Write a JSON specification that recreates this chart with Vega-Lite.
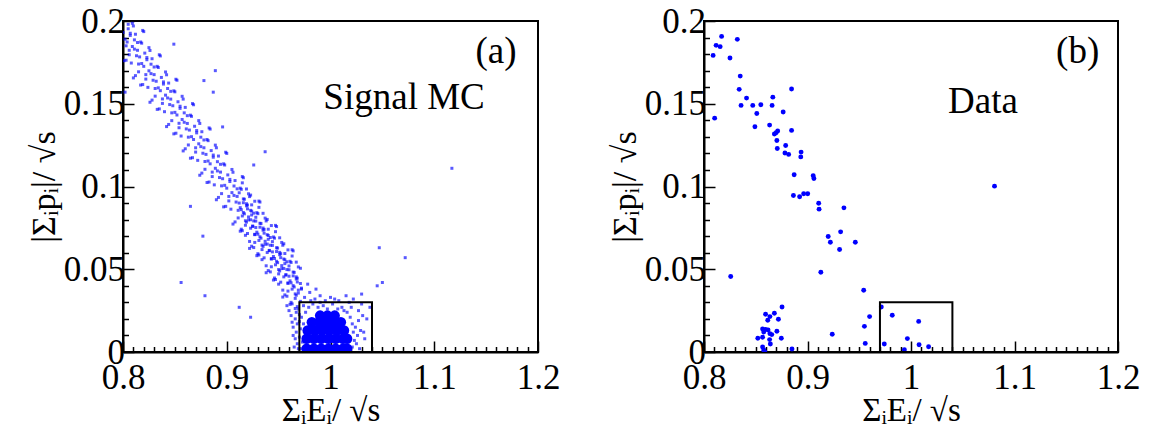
{
  "$schema": "https://vega.github.io/schema/vega-lite/v6.json",
  "background": "white",
  "padding": {"left": 26, "top": 3, "right": 5, "bottom": 0},
  "spacing": 166,
  "bounds": "flush",
  "config": {"view": {"stroke": "black", "strokeWidth": 2}},
  "datasets": {
    "mc": [
      {"x":0.801,"y":0.176},{"x":0.802,"y":0.189},{"x":0.800,"y":0.193},{"x":0.805,"y":0.198},{"x":0.803,"y":0.185},
      {"x":0.803,"y":0.1763},{"x":0.806,"y":0.1823},{"x":0.804,"y":0.1873},{"x":0.807,"y":0.1913},{"x":0.805,"y":0.1953},
      {"x":0.810,"y":0.1656},{"x":0.808,"y":0.1746},{"x":0.806,"y":0.1796},{"x":0.809,"y":0.1846},{"x":0.811,"y":0.1886},{"x":0.807,"y":0.1926},{"x":0.809,"y":0.1986},
      {"x":0.812,"y":0.1670},{"x":0.815,"y":0.1740},{"x":0.813,"y":0.1790},{"x":0.811,"y":0.1830},{"x":0.814,"y":0.1870},{"x":0.812,"y":0.1920},{"x":0.810,"y":0.1970},
      {"x":0.817,"y":0.1613},{"x":0.815,"y":0.1693},{"x":0.818,"y":0.1743},{"x":0.816,"y":0.1783},{"x":0.814,"y":0.1823},{"x":0.817,"y":0.1873},{"x":0.819,"y":0.1943},
      {"x":0.819,"y":0.1616},{"x":0.822,"y":0.1676},{"x":0.820,"y":0.1726},{"x":0.823,"y":0.1766},{"x":0.821,"y":0.1806},{"x":0.818,"y":0.1866},{"x":0.820,"y":0.1936},
      {"x":0.826,"y":0.1509},{"x":0.824,"y":0.1599},{"x":0.822,"y":0.1649},{"x":0.825,"y":0.1699},{"x":0.827,"y":0.1739},{"x":0.823,"y":0.1779},{"x":0.825,"y":0.1839},
      {"x":0.828,"y":0.1522},{"x":0.831,"y":0.1592},{"x":0.829,"y":0.1642},{"x":0.827,"y":0.1682},{"x":0.830,"y":0.1722},{"x":0.828,"y":0.1772},{"x":0.826,"y":0.1822},
      {"x":0.833,"y":0.1466},{"x":0.831,"y":0.1546},{"x":0.834,"y":0.1596},{"x":0.832,"y":0.1636},{"x":0.830,"y":0.1676},{"x":0.833,"y":0.1726},{"x":0.835,"y":0.1796},
      {"x":0.835,"y":0.1469},{"x":0.838,"y":0.1529},{"x":0.836,"y":0.1579},{"x":0.839,"y":0.1619},{"x":0.837,"y":0.1659},{"x":0.834,"y":0.1719},{"x":0.836,"y":0.1789},
      {"x":0.842,"y":0.1362},{"x":0.840,"y":0.1452},{"x":0.838,"y":0.1502},{"x":0.841,"y":0.1552},{"x":0.843,"y":0.1592},{"x":0.839,"y":0.1632},{"x":0.841,"y":0.1692},
      {"x":0.844,"y":0.1375},{"x":0.847,"y":0.1445},{"x":0.845,"y":0.1495},{"x":0.843,"y":0.1535},{"x":0.846,"y":0.1575},{"x":0.844,"y":0.1625},{"x":0.842,"y":0.1675},
      {"x":0.849,"y":0.1318},{"x":0.847,"y":0.1398},{"x":0.850,"y":0.1448},{"x":0.848,"y":0.1488},{"x":0.846,"y":0.1528},{"x":0.849,"y":0.1578},{"x":0.851,"y":0.1648},
      {"x":0.851,"y":0.1322},{"x":0.854,"y":0.1382},{"x":0.852,"y":0.1432},{"x":0.855,"y":0.1472},{"x":0.853,"y":0.1512},{"x":0.850,"y":0.1572},{"x":0.852,"y":0.1642},
      {"x":0.858,"y":0.1215},{"x":0.856,"y":0.1305},{"x":0.854,"y":0.1355},{"x":0.857,"y":0.1405},{"x":0.859,"y":0.1445},{"x":0.855,"y":0.1485},{"x":0.857,"y":0.1545},
      {"x":0.860,"y":0.1228},{"x":0.863,"y":0.1298},{"x":0.861,"y":0.1348},{"x":0.859,"y":0.1388},{"x":0.862,"y":0.1428},{"x":0.860,"y":0.1478},{"x":0.858,"y":0.1528},
      {"x":0.865,"y":0.1171},{"x":0.863,"y":0.1251},{"x":0.866,"y":0.1301},{"x":0.864,"y":0.1341},{"x":0.862,"y":0.1381},{"x":0.865,"y":0.1431},{"x":0.867,"y":0.1501},
      {"x":0.867,"y":0.1174},{"x":0.870,"y":0.1234},{"x":0.868,"y":0.1284},{"x":0.871,"y":0.1324},{"x":0.869,"y":0.1364},{"x":0.866,"y":0.1424},{"x":0.868,"y":0.1494},
      {"x":0.874,"y":0.1068},{"x":0.872,"y":0.1158},{"x":0.870,"y":0.1208},{"x":0.873,"y":0.1258},{"x":0.875,"y":0.1298},{"x":0.871,"y":0.1338},{"x":0.873,"y":0.1398},
      {"x":0.876,"y":0.1081},{"x":0.879,"y":0.1151},{"x":0.877,"y":0.1201},{"x":0.875,"y":0.1241},{"x":0.878,"y":0.1281},{"x":0.876,"y":0.1331},{"x":0.874,"y":0.1381},
      {"x":0.881,"y":0.1024},{"x":0.879,"y":0.1104},{"x":0.882,"y":0.1154},{"x":0.880,"y":0.1194},{"x":0.878,"y":0.1234},{"x":0.881,"y":0.1284},{"x":0.883,"y":0.1354},
      {"x":0.883,"y":0.1027},{"x":0.886,"y":0.1087},{"x":0.884,"y":0.1137},{"x":0.887,"y":0.1177},{"x":0.885,"y":0.1217},{"x":0.882,"y":0.1277},{"x":0.884,"y":0.1347},
      {"x":0.890,"y":0.0920},{"x":0.888,"y":0.1010},{"x":0.886,"y":0.1060},{"x":0.889,"y":0.1110},{"x":0.891,"y":0.1150},{"x":0.887,"y":0.1190},{"x":0.889,"y":0.1250},
      {"x":0.892,"y":0.0934},{"x":0.895,"y":0.1004},{"x":0.893,"y":0.1054},{"x":0.891,"y":0.1094},{"x":0.894,"y":0.1134},{"x":0.892,"y":0.1184},{"x":0.890,"y":0.1234},
      {"x":0.897,"y":0.0877},{"x":0.895,"y":0.0957},{"x":0.898,"y":0.1007},{"x":0.896,"y":0.1047},{"x":0.894,"y":0.1087},{"x":0.897,"y":0.1137},{"x":0.899,"y":0.1207},
      {"x":0.899,"y":0.0880},{"x":0.902,"y":0.0940},{"x":0.900,"y":0.0990},{"x":0.903,"y":0.1030},{"x":0.901,"y":0.1070},{"x":0.898,"y":0.1130},{"x":0.900,"y":0.1200},
      {"x":0.906,"y":0.0773},{"x":0.904,"y":0.0863},{"x":0.902,"y":0.0913},{"x":0.905,"y":0.0963},{"x":0.907,"y":0.1003},{"x":0.903,"y":0.1043},{"x":0.905,"y":0.1103},
      {"x":0.908,"y":0.0786},{"x":0.911,"y":0.0856},{"x":0.909,"y":0.0906},{"x":0.907,"y":0.0946},{"x":0.910,"y":0.0986},{"x":0.908,"y":0.1036},{"x":0.906,"y":0.1086},
      {"x":0.913,"y":0.0730},{"x":0.911,"y":0.0810},{"x":0.914,"y":0.0860},{"x":0.912,"y":0.0900},{"x":0.910,"y":0.0940},{"x":0.913,"y":0.0990},{"x":0.915,"y":0.1060},
      {"x":0.915,"y":0.0733},{"x":0.918,"y":0.0793},{"x":0.916,"y":0.0843},{"x":0.919,"y":0.0883},{"x":0.917,"y":0.0923},{"x":0.914,"y":0.0983},{"x":0.916,"y":0.1053},
      {"x":0.922,"y":0.0626},{"x":0.920,"y":0.0716},{"x":0.918,"y":0.0766},{"x":0.921,"y":0.0816},{"x":0.923,"y":0.0856},{"x":0.919,"y":0.0896},{"x":0.921,"y":0.0956},
      {"x":0.924,"y":0.0639},{"x":0.927,"y":0.0709},{"x":0.925,"y":0.0759},{"x":0.923,"y":0.0799},{"x":0.926,"y":0.0839},{"x":0.924,"y":0.0889},{"x":0.922,"y":0.0939},
      {"x":0.929,"y":0.0582},{"x":0.927,"y":0.0662},{"x":0.930,"y":0.0712},{"x":0.928,"y":0.0752},{"x":0.926,"y":0.0792},{"x":0.929,"y":0.0842},{"x":0.931,"y":0.0912},
      {"x":0.931,"y":0.0586},{"x":0.934,"y":0.0646},{"x":0.932,"y":0.0696},{"x":0.935,"y":0.0736},{"x":0.933,"y":0.0776},{"x":0.930,"y":0.0836},{"x":0.932,"y":0.0906},
      {"x":0.938,"y":0.0479},{"x":0.936,"y":0.0569},{"x":0.934,"y":0.0619},{"x":0.937,"y":0.0669},{"x":0.939,"y":0.0709},{"x":0.935,"y":0.0749},{"x":0.937,"y":0.0809},
      {"x":0.940,"y":0.0492},{"x":0.943,"y":0.0562},{"x":0.941,"y":0.0612},{"x":0.939,"y":0.0652},{"x":0.942,"y":0.0692},{"x":0.940,"y":0.0742},{"x":0.938,"y":0.0792},
      {"x":0.945,"y":0.0435},{"x":0.943,"y":0.0515},{"x":0.946,"y":0.0565},{"x":0.944,"y":0.0605},{"x":0.942,"y":0.0645},{"x":0.945,"y":0.0695},{"x":0.947,"y":0.0765},
      {"x":0.947,"y":0.0438},{"x":0.950,"y":0.0498},{"x":0.948,"y":0.0548},{"x":0.951,"y":0.0588},{"x":0.949,"y":0.0628},{"x":0.946,"y":0.0688},{"x":0.948,"y":0.0758},
      {"x":0.954,"y":0.0332},{"x":0.952,"y":0.0422},{"x":0.950,"y":0.0472},{"x":0.953,"y":0.0522},{"x":0.955,"y":0.0562},{"x":0.951,"y":0.0602},{"x":0.953,"y":0.0662},
      {"x":0.956,"y":0.0345},{"x":0.959,"y":0.0415},{"x":0.957,"y":0.0465},{"x":0.955,"y":0.0505},{"x":0.958,"y":0.0545},{"x":0.956,"y":0.0595},{"x":0.954,"y":0.0645},
      {"x":0.961,"y":0.0288},{"x":0.959,"y":0.0368},{"x":0.962,"y":0.0418},{"x":0.960,"y":0.0458},{"x":0.958,"y":0.0498},{"x":0.961,"y":0.0548},{"x":0.963,"y":0.0618},
      {"x":0.963,"y":0.0291},{"x":0.966,"y":0.0351},{"x":0.964,"y":0.0401},{"x":0.967,"y":0.0441},{"x":0.965,"y":0.0481},{"x":0.962,"y":0.0541},{"x":0.964,"y":0.0611},
      {"x":0.970,"y":0.0184},{"x":0.968,"y":0.0274},{"x":0.966,"y":0.0324},{"x":0.969,"y":0.0374},{"x":0.971,"y":0.0414},{"x":0.967,"y":0.0454},{"x":0.969,"y":0.0514},
      {"x":0.914,"y":0.0742},{"x":0.915,"y":0.0822},{"x":0.913,"y":0.0872},{"x":0.916,"y":0.0902},{"x":0.912,"y":0.0962},{"x":0.915,"y":0.1022},
      {"x":0.918,"y":0.0705},{"x":0.919,"y":0.0785},{"x":0.917,"y":0.0835},{"x":0.920,"y":0.0865},{"x":0.916,"y":0.0925},{"x":0.919,"y":0.0985},
      {"x":0.922,"y":0.0668},{"x":0.923,"y":0.0748},{"x":0.921,"y":0.0798},{"x":0.924,"y":0.0828},{"x":0.920,"y":0.0888},{"x":0.923,"y":0.0948},
      {"x":0.926,"y":0.0631},{"x":0.927,"y":0.0711},{"x":0.925,"y":0.0761},{"x":0.928,"y":0.0791},{"x":0.924,"y":0.0851},{"x":0.927,"y":0.0911},
      {"x":0.930,"y":0.0594},{"x":0.931,"y":0.0674},{"x":0.929,"y":0.0724},{"x":0.932,"y":0.0754},{"x":0.928,"y":0.0814},{"x":0.931,"y":0.0874},
      {"x":0.934,"y":0.0558},{"x":0.935,"y":0.0638},{"x":0.933,"y":0.0688},{"x":0.936,"y":0.0718},{"x":0.932,"y":0.0778},{"x":0.935,"y":0.0838},
      {"x":0.938,"y":0.0521},{"x":0.939,"y":0.0601},{"x":0.937,"y":0.0651},{"x":0.940,"y":0.0681},{"x":0.936,"y":0.0741},{"x":0.939,"y":0.0801},
      {"x":0.942,"y":0.0484},{"x":0.943,"y":0.0564},{"x":0.941,"y":0.0614},{"x":0.944,"y":0.0644},{"x":0.940,"y":0.0704},{"x":0.943,"y":0.0764},
      {"x":0.946,"y":0.0447},{"x":0.947,"y":0.0527},{"x":0.945,"y":0.0577},{"x":0.948,"y":0.0607},{"x":0.944,"y":0.0667},{"x":0.947,"y":0.0727},
      {"x":0.950,"y":0.0410},{"x":0.951,"y":0.0490},{"x":0.949,"y":0.0540},{"x":0.952,"y":0.0570},{"x":0.948,"y":0.0630},{"x":0.951,"y":0.0690},
      {"x":0.954,"y":0.0374},{"x":0.955,"y":0.0454},{"x":0.953,"y":0.0504},{"x":0.956,"y":0.0534},{"x":0.952,"y":0.0594},{"x":0.955,"y":0.0654},
      {"x":0.958,"y":0.0337},{"x":0.959,"y":0.0417},{"x":0.957,"y":0.0467},{"x":0.960,"y":0.0497},{"x":0.956,"y":0.0557},{"x":0.959,"y":0.0617},
      {"x":0.962,"y":0.0300},{"x":0.963,"y":0.0380},{"x":0.961,"y":0.0430},{"x":0.964,"y":0.0460},{"x":0.960,"y":0.0520},{"x":0.963,"y":0.0580},
      {"x":0.966,"y":0.0263},{"x":0.967,"y":0.0343},{"x":0.965,"y":0.0393},{"x":0.968,"y":0.0423},{"x":0.964,"y":0.0483},{"x":0.967,"y":0.0543},
      {"x":0.970,"y":0.0226},{"x":0.971,"y":0.0306},{"x":0.969,"y":0.0356},{"x":0.972,"y":0.0386},{"x":0.968,"y":0.0446},{"x":0.971,"y":0.0506},
      {"x":0.962,"y":0.022},{"x":0.964,"y":0.015},{"x":0.966,"y":0.008},{"x":0.965,"y":0.003},{"x":0.963,"y":0.018},{"x":0.967,"y":0.012},{"x":0.968,"y":0.005},{"x":0.960,"y":0.025},{"x":0.958,"y":0.028},{"x":0.966,"y":0.020},{"x":0.969,"y":0.002},{"x":0.964,"y":0.010},
      {"x":0.975,"y":0.033},{"x":0.980,"y":0.036},{"x":0.985,"y":0.032},{"x":0.990,"y":0.034},{"x":0.995,"y":0.031},{"x":1.000,"y":0.033},{"x":1.008,"y":0.031},{"x":1.015,"y":0.034},{"x":1.022,"y":0.032},{"x":0.972,"y":0.038},{"x":0.978,"y":0.041},{"x":0.986,"y":0.038},{"x":1.030,"y":0.035},
      {"x":1.035,"y":0.020},{"x":1.032,"y":0.012},{"x":1.038,"y":0.027},{"x":1.045,"y":0.040},
      {"x":0.969,"y":0.026},{"x":0.972,"y":0.021},{"x":0.971,"y":0.014},{"x":0.973,"y":0.006},{"x":0.970,"y":0.009},{"x":0.974,"y":0.028},{"x":0.976,"y":0.024},{"x":0.979,"y":0.027},{"x":0.983,"y":0.029},{"x":0.988,"y":0.027},{"x":0.993,"y":0.028},{"x":0.997,"y":0.026},{"x":1.002,"y":0.029},{"x":1.007,"y":0.026},{"x":1.011,"y":0.027},{"x":1.016,"y":0.024},{"x":1.019,"y":0.021},{"x":1.021,"y":0.017},{"x":1.022,"y":0.012},{"x":1.023,"y":0.007},{"x":1.021,"y":0.003},{"x":1.024,"y":0.015},{"x":1.026,"y":0.010},{"x":1.027,"y":0.019},{"x":1.025,"y":0.005},{"x":1.028,"y":0.002},{"x":1.029,"y":0.013},{"x":1.031,"y":0.022},{"x":1.027,"y":0.025},{"x":1.020,"y":0.027},{"x":0.968,"y":0.017},{"x":0.967,"y":0.024},{"x":0.972,"y":0.002},{"x":0.974,"y":0.017},{"x":1.013,"y":0.025},{"x":0.981,"y":0.031},{"x":1.004,"y":0.032},{"x":1.018,"y":0.030},{"x":0.990,"y":0.030},{"x":1.033,"y":0.008},{"x":1.030,"y":0.029},
      {"x":1.117,"y":0.111},{"x":1.047,"y":0.063},{"x":1.072,"y":0.057},{"x":1.050,"y":0.042},{"x":0.889,"y":0.170},{"x":0.878,"y":0.164},{"x":0.865,"y":0.088},{"x":0.877,"y":0.070},{"x":0.856,"y":0.042},{"x":0.879,"y":0.034},{"x":0.912,"y":0.027},{"x":0.923,"y":0.021},{"x":0.937,"y":0.121},{"x":0.926,"y":0.113},{"x":0.849,"y":0.186},{"x":0.896,"y":0.136},{"x":0.887,"y":0.157},{"x":0.802,"y":0.157}
    ],
    "core": [
      {"x":0.977,"y":0.002},{"x":0.984,"y":0.002},{"x":0.991,"y":0.002},{"x":0.998,"y":0.002},{"x":1.005,"y":0.002},{"x":1.012,"y":0.002},{"x":1.016,"y":0.002},
      {"x":0.977,"y":0.008},{"x":0.984,"y":0.008},{"x":0.991,"y":0.008},{"x":0.998,"y":0.008},{"x":1.005,"y":0.008},{"x":1.012,"y":0.008},{"x":1.016,"y":0.008},
      {"x":0.978,"y":0.013},{"x":0.985,"y":0.013},{"x":0.992,"y":0.013},{"x":0.999,"y":0.013},{"x":1.006,"y":0.013},{"x":1.013,"y":0.013},
      {"x":0.982,"y":0.018},{"x":0.989,"y":0.018},{"x":0.996,"y":0.018},{"x":1.003,"y":0.018},{"x":1.010,"y":0.018},
      {"x":0.990,"y":0.022},{"x":0.997,"y":0.022},{"x":1.004,"y":0.022}
    ],
    "data": [
      {"x":0.8088,"y":0.1792},{"x":0.8117,"y":0.1853},{"x":0.8156,"y":0.1845},{"x":0.8170,"y":0.1907},{"x":0.8322,"y":0.1889},{"x":0.8251,"y":0.1776},{"x":0.8103,"y":0.1413},
      {"x":0.8350,"y":0.1667},{"x":0.8340,"y":0.1587},{"x":0.8358,"y":0.1490},{"x":0.8411,"y":0.1534},{"x":0.8471,"y":0.1490},{"x":0.8549,"y":0.1494},{"x":0.8510,"y":0.1441},
      {"x":0.8492,"y":0.1361},{"x":0.8665,"y":0.1540},{"x":0.8658,"y":0.1490},{"x":0.8634,"y":0.1371},{"x":0.8765,"y":0.1450},{"x":0.8846,"y":0.1589},{"x":0.8846,"y":0.1339},
      {"x":0.8680,"y":0.1317},{"x":0.8697,"y":0.1325},{"x":0.8712,"y":0.1335},{"x":0.8704,"y":0.1278},{"x":0.8708,"y":0.1230},{"x":0.8789,"y":0.1248},{"x":0.8782,"y":0.1202},
      {"x":0.8818,"y":0.1194},{"x":0.8938,"y":0.1208},{"x":0.8935,"y":0.1179},{"x":0.8871,"y":0.1071},{"x":0.8864,"y":0.0946},{"x":0.8924,"y":0.0938},{"x":0.8963,"y":0.0956},
      {"x":0.9002,"y":0.0956},{"x":0.9055,"y":0.1065},{"x":0.9062,"y":0.1048},{"x":0.9108,"y":0.0899},{"x":0.9112,"y":0.0863},{"x":0.9352,"y":0.0871},{"x":0.9200,"y":0.0698},
      {"x":0.9221,"y":0.0663},{"x":0.9320,"y":0.0726},{"x":0.9310,"y":0.0619},{"x":0.9462,"y":0.0663},{"x":0.9129,"y":0.0482},{"x":0.9543,"y":0.0373},{"x":0.8258,"y":0.0456},
      {"x":1.0807,"y":0.1002},{"x":0.8754,"y":0.0272},{"x":0.8680,"y":0.0234},{"x":0.8595,"y":0.0228},{"x":0.8637,"y":0.0214},{"x":0.8616,"y":0.0192},{"x":0.8719,"y":0.0198},
      {"x":0.8566,"y":0.0139},{"x":0.8595,"y":0.0137},{"x":0.8619,"y":0.0133},{"x":0.8577,"y":0.0121},{"x":0.8637,"y":0.0111},{"x":0.8655,"y":0.0105},{"x":0.8704,"y":0.0125},
      {"x":0.8520,"y":0.0083},{"x":0.8566,"y":0.0089},{"x":0.8634,"y":0.0075},{"x":0.8747,"y":0.0083},{"x":0.8641,"y":0.0048},{"x":0.8566,"y":0.0030},{"x":0.8577,"y":0.0012},
      {"x":0.8588,"y":0.0000},{"x":0.8850,"y":0.0018},{"x":0.9239,"y":0.0107},{"x":0.9550,"y":0.0155},{"x":0.9600,"y":0.0214},{"x":0.9558,"y":0.0052},{"x":0.9713,"y":0.0272},
      {"x":0.9819,"y":0.0222},{"x":0.9742,"y":0.0048},{"x":1.0074,"y":0.0185},{"x":0.9965,"y":0.0081},{"x":0.9936,"y":0.0014},{"x":1.0078,"y":0.0044},{"x":1.0170,"y":0.0032}
    ],
    "box": [{"x1":0.97,"x2":1.04,"y1":0,"y2":0.03}],
    "lblA": [{"x":1.1595,"y":0.1746,"t":"(a)"},{"x":1.0709,"y":0.1468,"t":"Signal MC"}],
    "lblB": [{"x":1.161,"y":0.1746,"t":"(b)"},{"x":1.0696,"y":0.1444,"t":"Data"}]
  },
  "hconcat": [
    {
      "width": 415, "height": 331,
      "layer": [
        {
          "data": {"name": "mc"},
          "mark": {"type": "square", "size": 9, "color": "#0000ff", "opacity": 0.65, "clip": true},
          "encoding": {
            "x": {"field": "x", "type": "quantitative", "title": "ΣᵢEᵢ/ √s", "scale": {"domain": [0.8, 1.2], "nice": false, "zero": false},
              "axis": {"values": [0.8,0.81,0.82,0.83,0.84,0.85,0.86,0.87,0.88,0.89,0.9,0.91,0.92,0.93,0.94,0.95,0.96,0.97,0.98,0.99,1,1.01,1.02,1.03,1.04,1.05,1.06,1.07,1.08,1.09,1.1,1.11,1.12,1.13,1.14,1.15,1.16,1.17,1.18,1.19,1.2], "labelExpr": "abs(datum.value*10 - round(datum.value*10)) < 0.001 ? format(datum.value, '~g') : ''", "tickSize": {"condition": {"test": "abs(datum.value*10 - round(datum.value*10)) < 0.001", "value": -11}, "value": -5.5}, "ticks": true, "tickColor": "black", "tickWidth": 1.5, "domain": true, "domainColor": "black", "domainWidth": 2, "grid": false, "labelOverlap": false, "labelFlush": false, "labelBound": false, "labelFont": "Liberation Serif", "labelFontSize": 35, "labelColor": "black", "labelPadding": 19, "titleFont": "Liberation Serif", "titleFontSize": 33, "titleFontWeight": "normal", "titleColor": "black", "titlePadding": -6}},
            "y": {"field": "y", "type": "quantitative", "title": "|Σᵢpᵢ|/ √s", "scale": {"domain": [0, 0.2], "nice": false},
              "axis": {"values": [0,0.01,0.02,0.03,0.04,0.05,0.06,0.07,0.08,0.09,0.1,0.11,0.12,0.13,0.14,0.15,0.16,0.17,0.18,0.19,0.2], "labelExpr": "abs(datum.value*20 - round(datum.value*20)) < 0.001 ? format(datum.value, '~g') : ''", "tickSize": {"condition": {"test": "abs(datum.value*20 - round(datum.value*20)) < 0.001", "value": -11}, "value": -5.5}, "ticks": true, "tickColor": "black", "tickWidth": 1.5, "domain": true, "domainColor": "black", "domainWidth": 2, "grid": false, "labelOverlap": false, "labelFlush": false, "labelBound": false, "labelFont": "Liberation Serif", "labelFontSize": 35, "labelColor": "black", "labelPadding": 9.5, "titleFont": "Liberation Serif", "titleFontSize": 34, "titleFontWeight": "normal", "titleColor": "black", "titlePadding": 2}}
          }
        },
        {
          "data": {"name": "core"},
          "mark": {"type": "circle", "size": 110, "color": "#0000ff", "opacity": 1, "clip": true},
          "encoding": {
            "x": {"field": "x", "type": "quantitative", "title": "ΣᵢEᵢ/ √s",
              "axis": {"values": [0.8,0.81,0.82,0.83,0.84,0.85,0.86,0.87,0.88,0.89,0.9,0.91,0.92,0.93,0.94,0.95,0.96,0.97,0.98,0.99,1,1.01,1.02,1.03,1.04,1.05,1.06,1.07,1.08,1.09,1.1,1.11,1.12,1.13,1.14,1.15,1.16,1.17,1.18,1.19,1.2], "labelExpr": "abs(datum.value*10 - round(datum.value*10)) < 0.001 ? format(datum.value, '~g') : ''", "tickSize": {"condition": {"test": "abs(datum.value*10 - round(datum.value*10)) < 0.001", "value": -11}, "value": -5.5}, "ticks": true, "tickColor": "black", "tickWidth": 1.5, "domain": true, "domainColor": "black", "domainWidth": 2, "grid": false, "labelOverlap": false, "labelFlush": false, "labelBound": false, "labelFont": "Liberation Serif", "labelFontSize": 35, "labelColor": "black", "labelPadding": 19, "titleFont": "Liberation Serif", "titleFontSize": 33, "titleFontWeight": "normal", "titleColor": "black", "titlePadding": -6}},
            "y": {"field": "y", "type": "quantitative", "title": "|Σᵢpᵢ|/ √s",
              "axis": {"values": [0,0.01,0.02,0.03,0.04,0.05,0.06,0.07,0.08,0.09,0.1,0.11,0.12,0.13,0.14,0.15,0.16,0.17,0.18,0.19,0.2], "labelExpr": "abs(datum.value*20 - round(datum.value*20)) < 0.001 ? format(datum.value, '~g') : ''", "tickSize": {"condition": {"test": "abs(datum.value*20 - round(datum.value*20)) < 0.001", "value": -11}, "value": -5.5}, "ticks": true, "tickColor": "black", "tickWidth": 1.5, "domain": true, "domainColor": "black", "domainWidth": 2, "grid": false, "labelOverlap": false, "labelFlush": false, "labelBound": false, "labelFont": "Liberation Serif", "labelFontSize": 35, "labelColor": "black", "labelPadding": 9.5, "titleFont": "Liberation Serif", "titleFontSize": 34, "titleFontWeight": "normal", "titleColor": "black", "titlePadding": 2}}
          }
        },
        {
          "data": {"name": "box"},
          "mark": {"type": "rect", "fill": null, "stroke": "black", "strokeWidth": 2},
          "encoding": {
            "x": {"field": "x1", "type": "quantitative", "title": "ΣᵢEᵢ/ √s",
              "axis": {"values": [0.8,0.81,0.82,0.83,0.84,0.85,0.86,0.87,0.88,0.89,0.9,0.91,0.92,0.93,0.94,0.95,0.96,0.97,0.98,0.99,1,1.01,1.02,1.03,1.04,1.05,1.06,1.07,1.08,1.09,1.1,1.11,1.12,1.13,1.14,1.15,1.16,1.17,1.18,1.19,1.2], "labelExpr": "abs(datum.value*10 - round(datum.value*10)) < 0.001 ? format(datum.value, '~g') : ''", "tickSize": {"condition": {"test": "abs(datum.value*10 - round(datum.value*10)) < 0.001", "value": -11}, "value": -5.5}, "ticks": true, "tickColor": "black", "tickWidth": 1.5, "domain": true, "domainColor": "black", "domainWidth": 2, "grid": false, "labelOverlap": false, "labelFlush": false, "labelBound": false, "labelFont": "Liberation Serif", "labelFontSize": 35, "labelColor": "black", "labelPadding": 19, "titleFont": "Liberation Serif", "titleFontSize": 33, "titleFontWeight": "normal", "titleColor": "black", "titlePadding": -6}},
            "x2": {"field": "x2"},
            "y": {"field": "y1", "type": "quantitative", "title": "|Σᵢpᵢ|/ √s",
              "axis": {"values": [0,0.01,0.02,0.03,0.04,0.05,0.06,0.07,0.08,0.09,0.1,0.11,0.12,0.13,0.14,0.15,0.16,0.17,0.18,0.19,0.2], "labelExpr": "abs(datum.value*20 - round(datum.value*20)) < 0.001 ? format(datum.value, '~g') : ''", "tickSize": {"condition": {"test": "abs(datum.value*20 - round(datum.value*20)) < 0.001", "value": -11}, "value": -5.5}, "ticks": true, "tickColor": "black", "tickWidth": 1.5, "domain": true, "domainColor": "black", "domainWidth": 2, "grid": false, "labelOverlap": false, "labelFlush": false, "labelBound": false, "labelFont": "Liberation Serif", "labelFontSize": 35, "labelColor": "black", "labelPadding": 9.5, "titleFont": "Liberation Serif", "titleFontSize": 34, "titleFontWeight": "normal", "titleColor": "black", "titlePadding": 2}},
            "y2": {"field": "y2"}
          }
        },
        {
          "data": {"name": "lblA"},
          "mark": {"type": "text", "font": "Liberation Serif", "fontSize": 37, "align": "center", "baseline": "alphabetic", "color": "black"},
          "encoding": {
            "x": {"field": "x", "type": "quantitative", "title": "ΣᵢEᵢ/ √s",
              "axis": {"values": [0.8,0.81,0.82,0.83,0.84,0.85,0.86,0.87,0.88,0.89,0.9,0.91,0.92,0.93,0.94,0.95,0.96,0.97,0.98,0.99,1,1.01,1.02,1.03,1.04,1.05,1.06,1.07,1.08,1.09,1.1,1.11,1.12,1.13,1.14,1.15,1.16,1.17,1.18,1.19,1.2], "labelExpr": "abs(datum.value*10 - round(datum.value*10)) < 0.001 ? format(datum.value, '~g') : ''", "tickSize": {"condition": {"test": "abs(datum.value*10 - round(datum.value*10)) < 0.001", "value": -11}, "value": -5.5}, "ticks": true, "tickColor": "black", "tickWidth": 1.5, "domain": true, "domainColor": "black", "domainWidth": 2, "grid": false, "labelOverlap": false, "labelFlush": false, "labelBound": false, "labelFont": "Liberation Serif", "labelFontSize": 35, "labelColor": "black", "labelPadding": 19, "titleFont": "Liberation Serif", "titleFontSize": 33, "titleFontWeight": "normal", "titleColor": "black", "titlePadding": -6}},
            "y": {"field": "y", "type": "quantitative", "title": "|Σᵢpᵢ|/ √s",
              "axis": {"values": [0,0.01,0.02,0.03,0.04,0.05,0.06,0.07,0.08,0.09,0.1,0.11,0.12,0.13,0.14,0.15,0.16,0.17,0.18,0.19,0.2], "labelExpr": "abs(datum.value*20 - round(datum.value*20)) < 0.001 ? format(datum.value, '~g') : ''", "tickSize": {"condition": {"test": "abs(datum.value*20 - round(datum.value*20)) < 0.001", "value": -11}, "value": -5.5}, "ticks": true, "tickColor": "black", "tickWidth": 1.5, "domain": true, "domainColor": "black", "domainWidth": 2, "grid": false, "labelOverlap": false, "labelFlush": false, "labelBound": false, "labelFont": "Liberation Serif", "labelFontSize": 35, "labelColor": "black", "labelPadding": 9.5, "titleFont": "Liberation Serif", "titleFontSize": 34, "titleFontWeight": "normal", "titleColor": "black", "titlePadding": 2}},
            "text": {"field": "t"}
          }
        }
      ]
    },
    {
      "width": 414, "height": 331,
      "layer": [
        {
          "data": {"name": "data"},
          "mark": {"type": "circle", "size": 24, "color": "#0000ff", "opacity": 1, "clip": true},
          "encoding": {
            "x": {"field": "x", "type": "quantitative", "title": "ΣᵢEᵢ/ √s", "scale": {"domain": [0.8, 1.2], "nice": false, "zero": false},
              "axis": {"values": [0.8,0.81,0.82,0.83,0.84,0.85,0.86,0.87,0.88,0.89,0.9,0.91,0.92,0.93,0.94,0.95,0.96,0.97,0.98,0.99,1,1.01,1.02,1.03,1.04,1.05,1.06,1.07,1.08,1.09,1.1,1.11,1.12,1.13,1.14,1.15,1.16,1.17,1.18,1.19,1.2], "labelExpr": "abs(datum.value*10 - round(datum.value*10)) < 0.001 ? format(datum.value, '~g') : ''", "tickSize": {"condition": {"test": "abs(datum.value*10 - round(datum.value*10)) < 0.001", "value": -11}, "value": -5.5}, "ticks": true, "tickColor": "black", "tickWidth": 1.5, "domain": true, "domainColor": "black", "domainWidth": 2, "grid": false, "labelOverlap": false, "labelFlush": false, "labelBound": false, "labelFont": "Liberation Serif", "labelFontSize": 35, "labelColor": "black", "labelPadding": 19, "titleFont": "Liberation Serif", "titleFontSize": 33, "titleFontWeight": "normal", "titleColor": "black", "titlePadding": -6}},
            "y": {"field": "y", "type": "quantitative", "title": "|Σᵢpᵢ|/ √s", "scale": {"domain": [0, 0.2], "nice": false},
              "axis": {"values": [0,0.01,0.02,0.03,0.04,0.05,0.06,0.07,0.08,0.09,0.1,0.11,0.12,0.13,0.14,0.15,0.16,0.17,0.18,0.19,0.2], "labelExpr": "abs(datum.value*20 - round(datum.value*20)) < 0.001 ? format(datum.value, '~g') : ''", "tickSize": {"condition": {"test": "abs(datum.value*20 - round(datum.value*20)) < 0.001", "value": -11}, "value": -5.5}, "ticks": true, "tickColor": "black", "tickWidth": 1.5, "domain": true, "domainColor": "black", "domainWidth": 2, "grid": false, "labelOverlap": false, "labelFlush": false, "labelBound": false, "labelFont": "Liberation Serif", "labelFontSize": 35, "labelColor": "black", "labelPadding": 9.5, "titleFont": "Liberation Serif", "titleFontSize": 34, "titleFontWeight": "normal", "titleColor": "black", "titlePadding": 2}}
          }
        },
        {
          "data": {"name": "box"},
          "mark": {"type": "rect", "fill": null, "stroke": "black", "strokeWidth": 2},
          "encoding": {
            "x": {"field": "x1", "type": "quantitative", "title": "ΣᵢEᵢ/ √s",
              "axis": {"values": [0.8,0.81,0.82,0.83,0.84,0.85,0.86,0.87,0.88,0.89,0.9,0.91,0.92,0.93,0.94,0.95,0.96,0.97,0.98,0.99,1,1.01,1.02,1.03,1.04,1.05,1.06,1.07,1.08,1.09,1.1,1.11,1.12,1.13,1.14,1.15,1.16,1.17,1.18,1.19,1.2], "labelExpr": "abs(datum.value*10 - round(datum.value*10)) < 0.001 ? format(datum.value, '~g') : ''", "tickSize": {"condition": {"test": "abs(datum.value*10 - round(datum.value*10)) < 0.001", "value": -11}, "value": -5.5}, "ticks": true, "tickColor": "black", "tickWidth": 1.5, "domain": true, "domainColor": "black", "domainWidth": 2, "grid": false, "labelOverlap": false, "labelFlush": false, "labelBound": false, "labelFont": "Liberation Serif", "labelFontSize": 35, "labelColor": "black", "labelPadding": 19, "titleFont": "Liberation Serif", "titleFontSize": 33, "titleFontWeight": "normal", "titleColor": "black", "titlePadding": -6}},
            "x2": {"field": "x2"},
            "y": {"field": "y1", "type": "quantitative", "title": "|Σᵢpᵢ|/ √s",
              "axis": {"values": [0,0.01,0.02,0.03,0.04,0.05,0.06,0.07,0.08,0.09,0.1,0.11,0.12,0.13,0.14,0.15,0.16,0.17,0.18,0.19,0.2], "labelExpr": "abs(datum.value*20 - round(datum.value*20)) < 0.001 ? format(datum.value, '~g') : ''", "tickSize": {"condition": {"test": "abs(datum.value*20 - round(datum.value*20)) < 0.001", "value": -11}, "value": -5.5}, "ticks": true, "tickColor": "black", "tickWidth": 1.5, "domain": true, "domainColor": "black", "domainWidth": 2, "grid": false, "labelOverlap": false, "labelFlush": false, "labelBound": false, "labelFont": "Liberation Serif", "labelFontSize": 35, "labelColor": "black", "labelPadding": 9.5, "titleFont": "Liberation Serif", "titleFontSize": 34, "titleFontWeight": "normal", "titleColor": "black", "titlePadding": 2}},
            "y2": {"field": "y2"}
          }
        },
        {
          "data": {"name": "lblB"},
          "mark": {"type": "text", "font": "Liberation Serif", "fontSize": 37, "align": "center", "baseline": "alphabetic", "color": "black"},
          "encoding": {
            "x": {"field": "x", "type": "quantitative", "title": "ΣᵢEᵢ/ √s",
              "axis": {"values": [0.8,0.81,0.82,0.83,0.84,0.85,0.86,0.87,0.88,0.89,0.9,0.91,0.92,0.93,0.94,0.95,0.96,0.97,0.98,0.99,1,1.01,1.02,1.03,1.04,1.05,1.06,1.07,1.08,1.09,1.1,1.11,1.12,1.13,1.14,1.15,1.16,1.17,1.18,1.19,1.2], "labelExpr": "abs(datum.value*10 - round(datum.value*10)) < 0.001 ? format(datum.value, '~g') : ''", "tickSize": {"condition": {"test": "abs(datum.value*10 - round(datum.value*10)) < 0.001", "value": -11}, "value": -5.5}, "ticks": true, "tickColor": "black", "tickWidth": 1.5, "domain": true, "domainColor": "black", "domainWidth": 2, "grid": false, "labelOverlap": false, "labelFlush": false, "labelBound": false, "labelFont": "Liberation Serif", "labelFontSize": 35, "labelColor": "black", "labelPadding": 19, "titleFont": "Liberation Serif", "titleFontSize": 33, "titleFontWeight": "normal", "titleColor": "black", "titlePadding": -6}},
            "y": {"field": "y", "type": "quantitative", "title": "|Σᵢpᵢ|/ √s",
              "axis": {"values": [0,0.01,0.02,0.03,0.04,0.05,0.06,0.07,0.08,0.09,0.1,0.11,0.12,0.13,0.14,0.15,0.16,0.17,0.18,0.19,0.2], "labelExpr": "abs(datum.value*20 - round(datum.value*20)) < 0.001 ? format(datum.value, '~g') : ''", "tickSize": {"condition": {"test": "abs(datum.value*20 - round(datum.value*20)) < 0.001", "value": -11}, "value": -5.5}, "ticks": true, "tickColor": "black", "tickWidth": 1.5, "domain": true, "domainColor": "black", "domainWidth": 2, "grid": false, "labelOverlap": false, "labelFlush": false, "labelBound": false, "labelFont": "Liberation Serif", "labelFontSize": 35, "labelColor": "black", "labelPadding": 9.5, "titleFont": "Liberation Serif", "titleFontSize": 34, "titleFontWeight": "normal", "titleColor": "black", "titlePadding": 2}},
            "text": {"field": "t"}
          }
        }
      ]
    }
  ]
}
